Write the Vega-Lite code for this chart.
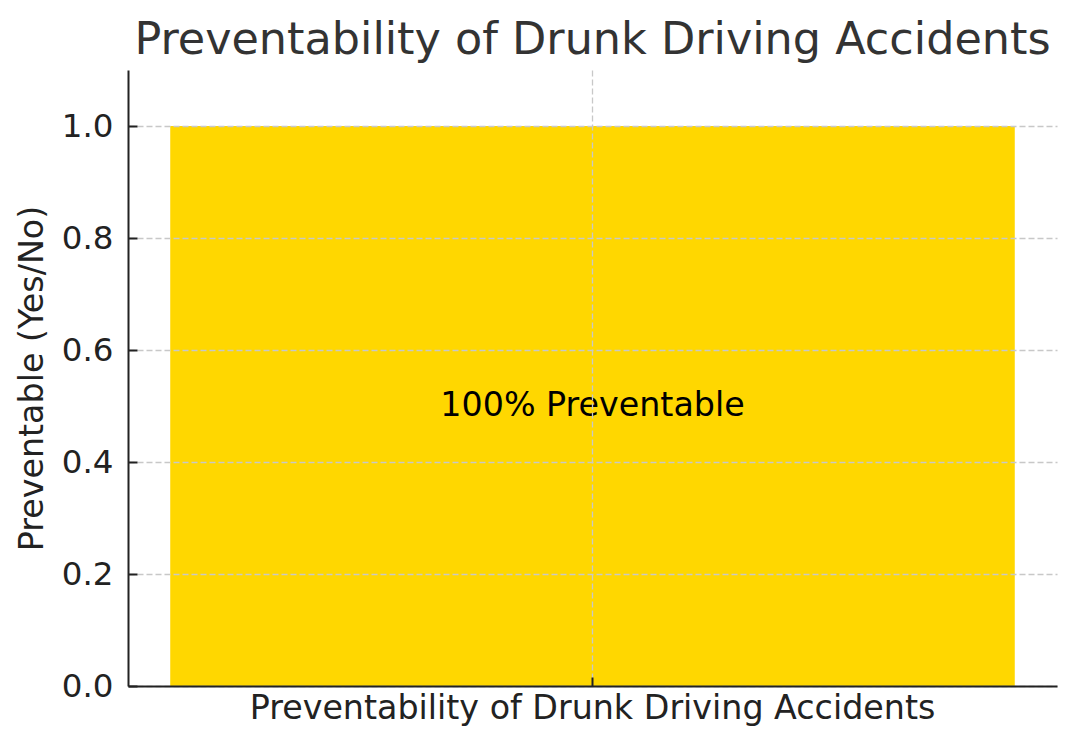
{
  "$schema": "https://vega.github.io/schema/vega-lite/v6.json",
  "width": 929,
  "height": 616,
  "autosize": "none",
  "padding": {"left": 128, "top": 70, "right": 20, "bottom": 63},
  "background": "white",
  "config": {
    "view": {"stroke": null},
    "font": "DejaVu Sans"
  },
  "title": {
    "text": "Preventability of Drunk Driving Accidents",
    "fontSize": 44.5,
    "fontWeight": "normal",
    "color": "#333333",
    "font": "DejaVu Sans",
    "anchor": "middle",
    "offset": 7
  },
  "data": {
    "values": [
      {"category": "Preventability of Drunk Driving Accidents", "preventable": 1, "label": "100% Preventable", "mid": 0.5}
    ]
  },
  "encoding": {
    "x": {
      "field": "category",
      "type": "nominal",
      "scale": {"paddingInner": 0, "paddingOuter": 0.05},
      "axis": {
        "title": null,
        "labelAngle": 0,
        "labelFontSize": 33.3,
        "labelColor": "#222222",
        "labelLimit": 0,
        "labelPadding": 15,
        "tickSize": -9,
        "tickWidth": 2,
        "tickColor": "#222222",
        "domainColor": "#222222",
        "domainWidth": 2,
        "grid": true,
        "gridColor": "#c8c8c8",
        "gridDash": [6, 3],
        "gridWidth": 1.3,
        "bandPosition": 0.5,
        "zindex": 1
      }
    }
  },
  "layer": [
    {
      "mark": {"type": "bar", "color": "#FFD700"},
      "encoding": {
        "y": {
          "field": "preventable",
          "type": "quantitative",
          "scale": {"domain": [0, 1.1], "nice": false},
          "axis": {
            "title": "Preventable (Yes/No)",
            "titleFontSize": 33.3,
            "titleFontWeight": "normal",
            "titleColor": "#222222",
            "titlePadding": 12,
            "values": [0, 0.2, 0.4, 0.6, 0.8, 1.0],
            "format": ".1f",
            "labelFontSize": 32.5,
            "labelColor": "#222222",
            "labelPadding": 24,
            "tickSize": -9,
            "tickWidth": 2,
            "tickColor": "#222222",
            "domainColor": "#222222",
            "domainWidth": 2,
            "grid": true,
            "gridColor": "#c8c8c8",
            "gridDash": [6, 3],
            "gridWidth": 1.3,
            "zindex": 1
          }
        }
      }
    },
    {
      "mark": {"type": "text", "fontSize": 33.3, "color": "#000000", "font": "DejaVu Sans", "zindex": 2},
      "encoding": {
        "y": {"field": "mid", "type": "quantitative"},
        "text": {"field": "label"}
      }
    }
  ]
}
